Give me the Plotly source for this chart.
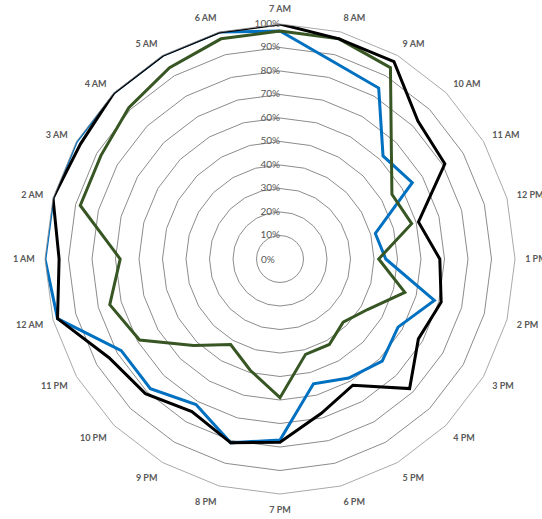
import plotly.graph_objects as go

hours = ["7 AM", "8 AM", "9 AM", "10 AM", "11 AM", "12 PM", "1 PM", "2 PM", "3 PM",
         "4 PM", "5 PM", "6 PM", "7 PM", "8 PM", "9 PM", "10 PM", "11 PM", "12 AM",
         "1 AM", "2 AM", "3 AM", "4 AM", "5 AM", "6 AM"]

black_vals = [1.00, 0.97, 0.97, 0.83, 0.81, 0.61, 0.68, 0.71, 0.68, 0.78, 0.62, 0.68,
              0.78, 0.81, 0.75, 0.81, 0.84, 0.98, 0.94, 1.00, 0.98, 1.00, 1.00, 1.00]
blue_vals = [0.97, 0.87, 0.84, 0.62, 0.65, 0.42, 0.45, 0.68, 0.58, 0.615, 0.585, 0.55,
             0.77, 0.81, 0.715, 0.78, 0.78, 0.98, 1.00, 1.00, 1.00, 1.00, 1.00, 1.00]
green_vals = [0.97, 0.97, 0.94, 0.67, 0.55, 0.58, 0.42, 0.55, 0.43, 0.38, 0.42, 0.42,
              0.59, 0.49, 0.42, 0.52, 0.69, 0.75, 0.68, 0.88, 0.88, 0.91, 0.94, 0.97]

radial_ticks = [0.0, 0.1, 0.2, 0.3, 0.4, 0.5, 0.6, 0.7, 0.8, 0.9, 1.0]
radial_labels = ["0%", "10%", "20%", "30%", "40%", "50%", "60%", "70%", "80%", "90%", "100%"]

series = [
    ("Blue", blue_vals, "#0070C0"),
    ("Green", green_vals, "#375623"),
    ("Black", black_vals, "#000000"),
]

label_font = dict(family="Lato", size=10, color="#595959")

fig = go.Figure()
for name, vals, color in series:
    fig.add_trace(go.Scatterpolar(
        r=vals + [vals[0]],
        theta=hours + [hours[0]],
        mode="lines",
        name=name,
        line=dict(color=color, width=3),
        hoverinfo="skip",
    ))

# radial axis value labels, right-aligned just left of the vertical (7 AM) spoke
fig.add_trace(go.Scatterpolar(
    r=radial_ticks[1:],
    theta=[hours[0]] * (len(radial_ticks) - 1),
    mode="text",
    text=radial_labels[1:],
    textposition="middle left",
    textfont=label_font,
    hoverinfo="skip",
    showlegend=False,
    cliponaxis=False,
))

fig.update_layout(
    width=542, height=519,
    margin=dict(l=45, r=27, t=24, b=25),
    paper_bgcolor="white",
    plot_bgcolor="white",
    showlegend=False,
    polar=dict(
        bgcolor="white",
        gridshape="linear",
        domain=dict(x=[0, 1], y=[0, 1]),
        radialaxis=dict(
            range=[0, 1],
            tickvals=radial_ticks[1:],
            showticklabels=False,
            showline=False,
            ticks="",
            angle=90,
            gridcolor="#8c8c8c",
            gridwidth=0.75,
        ),
        angularaxis=dict(
            rotation=90,
            direction="clockwise",
            showgrid=False,
            showline=True,
            linecolor="#8c8c8c",
            linewidth=0.75,
            ticks="outside",
            ticklen=8,
            tickcolor="rgba(0,0,0,0)",
            tickfont=dict(family="Lato", size=9, color="#595959", weight="bold"),
        ),
    ),
    annotations=[dict(
        # the "0%" label sits at the centre of the polar domain
        x=0.5, y=0.5, xref="paper", yref="paper",
        xanchor="right", yanchor="middle", xshift=-3,
        text=radial_labels[0], showarrow=False, font=label_font,
    )],
)

fig.write_html(
    "out.html",
    config={"displayModeBar": False},
    post_script="document.body.style.margin='0';document.body.style.overflow='hidden';",
)
